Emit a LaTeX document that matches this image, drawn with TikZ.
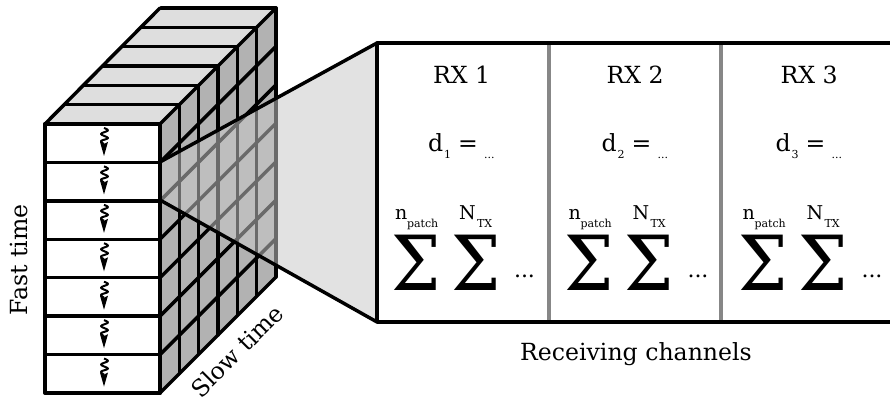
\documentclass[tikz,border=0pt]{standalone}
\usepackage{graphicx}
\usepackage{fontspec}
\setmainfont{DejaVu Serif}
\usetikzlibrary{calc}
\newcommand{\pxfont}[1]{\fontsize{\dimexpr #1pt*3/4\relax}{\dimexpr #1pt*3/4\relax}\selectfont}
\tikzset{
  x=0.75pt,y=-0.75pt,
  heavy/.style={line width=2.6pt,draw=black,line join=round,line cap=round},
  divider/.style={line width=2.3pt,draw=black!47},
  lbl/.style={inner sep=0pt,outer sep=0pt,anchor=base west},
  txt/.style={lbl,font=\pxfont{23.6}},
  tiny/.style={lbl,font=\pxfont{11}},
  small/.style={lbl,font=\pxfont{19}},
  big/.style={lbl,font=\pxfont{76}},
}
\begin{document}
\begin{tikzpicture}
\useasboundingbox (0,0) rectangle (890,398);
% side and top faces
\fill[black!30] (160,124) -- (276,8) -- (276,277) -- (160,393) -- cycle;
\fill[black!13] (45,124) -- (160,8) -- (276,8) -- (160,124) -- cycle;
\foreach \i in {0,...,6}{
  \draw[heavy] ({45+19.33*\i},{124-19.33*\i}) -- ({160+19.33*\i},{124-19.33*\i});
  \draw[heavy] ({160+19.33*\i},{124-19.33*\i}) -- ({160+19.33*\i},{393-19.33*\i});
}
\foreach \j in {0,...,7}{
  \draw[heavy] (160,{124+38.43*\j}) -- (276,{8+38.43*\j});
}
\draw[heavy] (45,124) -- (160,8);
% projection wedge
\coordinate (wa) at (160,162);
\coordinate (wb) at (160,200);
\coordinate (pa) at (377,43);
\coordinate (pb) at (377,322);
\fill[black!21,fill opacity=.53] (wa) -- (pa) -- (pb) -- (wb) -- cycle;
\draw[heavy] (wa) -- (pa) (wb) -- (pb);
% front face with wavy arrows
\fill[white] (45,124) rectangle (160,393);
\foreach \j in {0,...,7}{
  \draw[heavy] (45,{124+38.43*\j}) -- (160,{124+38.43*\j});
}
\draw[heavy] (45,124) -- (45,393) (160,124) -- (160,393);
\foreach \j in {0,...,6}{
  \begin{scope}[shift={(104,{124+38.43*\j})}]
    \draw[line width=1.5pt,line join=round] plot[smooth,tension=.6] coordinates {(0,4) (4,6.5) (-3,10) (4,14) (-3,17) (0,20)};
    \fill (-4,18) -- (0,20) -- (4,18) -- (0,32) -- cycle;
  \end{scope}
}
% panel
\fill[white] (377,43) rectangle (890,322);
\draw[divider] (549,43) -- (549,322);
\draw[divider] (721,43) -- (721,322);
\draw[heavy] (892,43) -- (pa) -- (pb) -- (892,322);
% channels
\foreach \k/\off in {1/0,2/173.5,3/347.5}{
  \begin{scope}[shift={(\off,0)}]
    \node[txt] (rx\k) at (433,84) {RX \k};
    \node[txt] (d\k) at (428,152) {d};
    \node[tiny] (ds\k) at (444,159) {\k};
    \node[txt] (eq\k) at (458,152) {=};
    \node[tiny] (dd\k) at (484,159) {...};
    \node[small] (n\k) at (395,220) {n};
    \node[tiny] (ns\k) at (407,228) {patch};
    \node[small] (nt\k) at (459,220) {N};
    \node[tiny] (nts\k) at (477,228) {TX};
    \node[big] (sa\k) at (391,291) {\scalebox{.92}[1]{Σ}};
    \node[big] (sb\k) at (451,291) {\scalebox{.92}[1]{Σ}};
    \node[lbl,font=\pxfont{22}] (el\k) at (514,278) {...};
  \end{scope}
}
\node[font=\pxfont{23.6},anchor=base] (rc) at (636,361) {Receiving channels};
\node[font=\pxfont{23.6},rotate=90] (ft) at (19,260) {Fast time};
\node[font=\pxfont{23.6},rotate=45] (st) at (237,351) {Slow time};
\end{tikzpicture}
\end{document}
